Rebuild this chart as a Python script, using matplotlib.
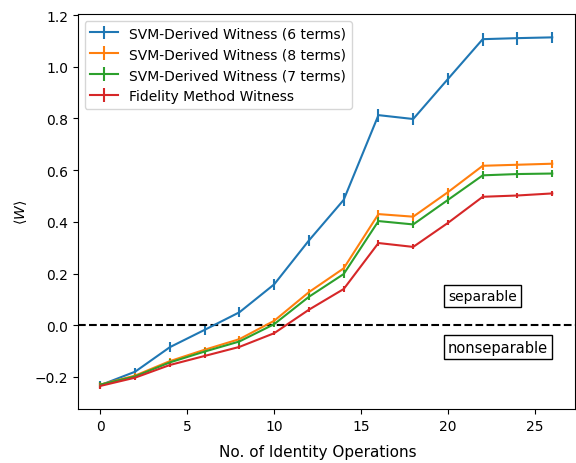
import numpy as np
import matplotlib.pyplot as plt

# data
n_ops = [0, 2, 4, 6, 8, 10, 12, 14, 16, 18, 20, 22, 24, 26]

svm6 = [-0.232, -0.18, -0.085, -0.018, 0.05, 0.158, 0.328, 0.485, 0.813, 0.798, 0.953, 1.107, 1.111, 1.114]
svm6_err = [0.015, 0.015, 0.02, 0.02, 0.02, 0.022, 0.022, 0.025, 0.025, 0.025, 0.025, 0.025, 0.025, 0.022]

svm8 = [-0.23, -0.195, -0.139, -0.095, -0.054, 0.017, 0.128, 0.22, 0.43, 0.42, 0.515, 0.617, 0.621, 0.625]
svm8_err = [0.012, 0.01, 0.012, 0.012, 0.012, 0.012, 0.014, 0.015, 0.015, 0.015, 0.015, 0.015, 0.015, 0.015]

svm7 = [-0.23, -0.198, -0.144, -0.102, -0.063, 0.004, 0.11, 0.198, 0.403, 0.39, 0.485, 0.58, 0.585, 0.587]
svm7_err = [0.012, 0.01, 0.012, 0.012, 0.012, 0.012, 0.014, 0.015, 0.015, 0.015, 0.015, 0.015, 0.015, 0.015]

fidelity = [-0.235, -0.203, -0.154, -0.119, -0.084, -0.031, 0.06, 0.14, 0.318, 0.303, 0.396, 0.497, 0.502, 0.51]
fidelity_err = [0.01, 0.008, 0.008, 0.008, 0.008, 0.008, 0.01, 0.01, 0.01, 0.01, 0.01, 0.01, 0.01, 0.01]


def main():
    fig, ax = plt.subplots(figsize=(5.76, 4.64), dpi=100)
    fig.subplots_adjust(left=0.135, right=0.998, top=0.968, bottom=0.116)

    ax.errorbar(n_ops, svm6, yerr=svm6_err, label="SVM-Derived Witness (6 terms)")
    ax.errorbar(n_ops, svm8, yerr=svm8_err, label="SVM-Derived Witness (8 terms)")
    ax.errorbar(n_ops, svm7, yerr=svm7_err, label="SVM-Derived Witness (7 terms)")
    ax.errorbar(n_ops, fidelity, yerr=fidelity_err, label="Fidelity Method Witness")

    ax.axhline(0, color="black", linestyle="dashed", linewidth=1.5)

    box = dict(boxstyle="square", facecolor="white", edgecolor="black")
    ax.text(20, 0.114, "separable", va="center", ha="left", bbox=box)
    ax.text(20, -0.085, "nonseparable", va="center", ha="left", fontsize=10.5, bbox=box)

    ax.set_ylim(-0.325, 1.205)
    ax.set_xlabel("No. of Identity Operations", fontsize=11)
    ax.xaxis.set_label_coords(0.483, -0.088)
    ax.set_ylabel(r"$\langle W \rangle$")
    ax.legend(loc="upper left")

    fig.savefig("out.png", dpi=100)


if __name__ == "__main__":
    main()
